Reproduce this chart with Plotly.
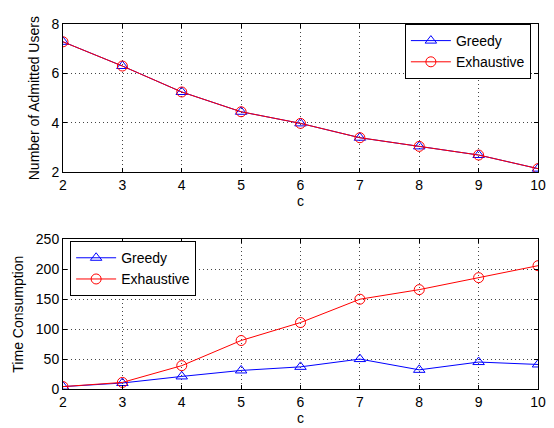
import plotly.graph_objects as go

c_vals = [2, 3, 4, 5, 6, 7, 8, 9, 10]
users_greedy = [7.28, 6.3, 5.25, 4.45, 3.98, 3.4, 3.05, 2.7, 2.15]
users_exhaustive = [7.28, 6.3, 5.25, 4.45, 3.98, 3.4, 3.05, 2.7, 2.15]
time_greedy = [4, 10, 21, 31, 37, 50, 32, 45, 41]
time_exhaustive = [4, 11, 39, 81, 111, 150, 166, 186, 206]

font = dict(family="Liberation Sans, Arial, sans-serif", size=14, color="black")

fig = go.Figure()

def add(x, y, name, color, symbol, xa, ya, legend):
    fig.add_trace(go.Scatter(
        x=x, y=y, name=name, mode="lines+markers",
        line=dict(color=color, width=1),
        marker=dict(symbol=symbol, size=10, color=color, line=dict(color=color, width=1)),
        xaxis=xa, yaxis=ya, legend=legend))

add(c_vals, users_greedy, "Greedy", "blue", "triangle-up-open", "x", "y", "legend")
add(c_vals, users_exhaustive, "Exhaustive", "red", "circle-open", "x", "y", "legend")
add(c_vals, time_greedy, "Greedy", "blue", "triangle-up-open", "x2", "y2", "legend2")
add(c_vals, time_exhaustive, "Exhaustive", "red", "circle-open", "x2", "y2", "legend2")

axis_common = dict(showline=True, linecolor="black", linewidth=1, mirror="ticks",
                   ticks="inside", ticklen=4, tickcolor="black",
                   showgrid=True, gridcolor="#444", griddash="1px,3px", gridwidth=1,
                   zeroline=False, tickfont=font, title_font=font)

# page body has an 8px margin; figure sized so that it fills the 554x428 window
fig.update_layout(
    width=546, height=420,
    margin=dict(l=55, r=10, t=8, b=38),
    paper_bgcolor="white", plot_bgcolor="white",
    font=font,
    showlegend=True,
    xaxis=dict(axis_common, domain=[0, 1], anchor="y", range=[2, 10], dtick=1,
               title=dict(text="c", standoff=0)),
    yaxis=dict(axis_common, domain=[0.5936, 1], anchor="x", range=[2, 8], dtick=2,
               title=dict(text="Number of Admitted Users", standoff=8)),
    xaxis2=dict(axis_common, domain=[0, 1], anchor="y2", range=[2, 10], dtick=1,
                title=dict(text="c", standoff=0)),
    yaxis2=dict(axis_common, domain=[0, 0.41], anchor="x2", range=[0, 250], dtick=50,
                title=dict(text="Time Consumption", standoff=8)),
    legend=dict(x=0.985, y=1.0, xanchor="right", yanchor="top", bgcolor="white",
                bordercolor="black", borderwidth=1, font=font,
                tracegroupgap=0, itemwidth=40),
    legend2=dict(x=0.015, y=0.405, xanchor="left", yanchor="top", bgcolor="white",
                 bordercolor="black", borderwidth=1, font=font,
                 tracegroupgap=0, itemwidth=40),
)

fig.write_html("out.html")
